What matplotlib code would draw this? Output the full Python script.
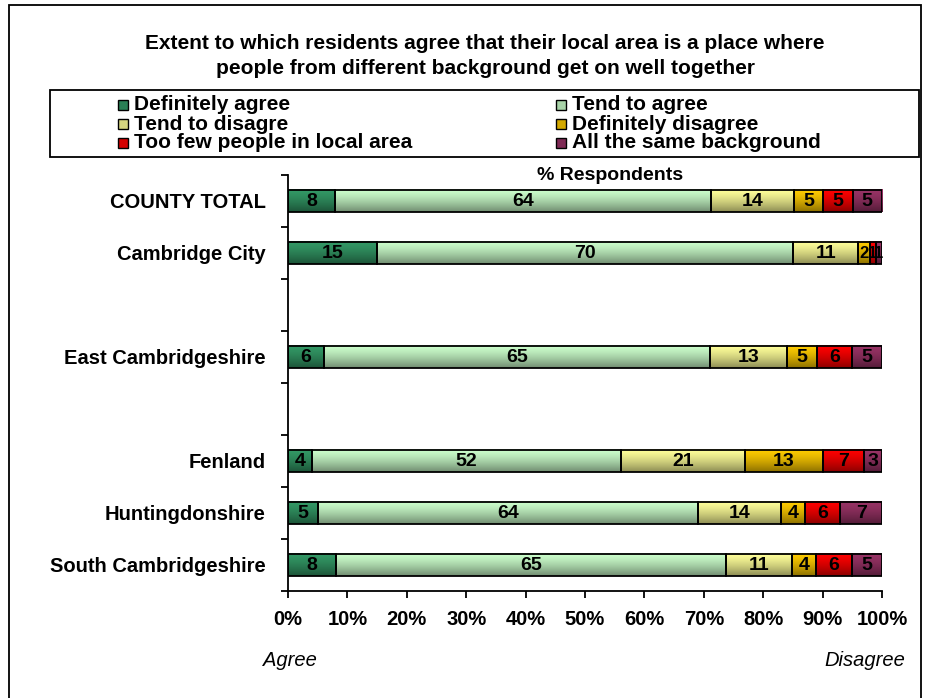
import numpy as np
import matplotlib
matplotlib.use("Agg")
import matplotlib.pyplot as plt
from matplotlib.patches import Rectangle
from matplotlib.colors import to_rgb

plt.rcParams['font.family'] = ['Liberation Sans', 'DejaVu Sans']

# ---- data ----
areas = ["COUNTY TOTAL", "Cambridge City", "East Cambridgeshire",
         "Fenland", "Huntingdonshire", "South Cambridgeshire"]
series_names = ["Definitely agree", "Tend to agree", "Tend to disagre",
                "Definitely disagree", "Too few people in local area",
                "All the same background"]
definitely_agree = [8, 15, 6, 4, 5, 8]
tend_to_agree = [64, 70, 65, 52, 64, 65]
tend_to_disagree = [14, 11, 13, 21, 14, 11]
definitely_disagree = [5, 2, 5, 13, 4, 4]
too_few_people = [5, 1, 6, 7, 6, 6]
same_background = [5, 1, 5, 3, 7, 5]
x_ticks = [0, 10, 20, 30, 40, 50, 60, 70, 80, 90, 100]
x_tick_labels = ["0%", "10%", "20%", "30%", "40%", "50%",
                 "60%", "70%", "80%", "90%", "100%"]

# ---- style / layout ----
series_colors = ["#339966", "#CCFFCC", "#FFFF99", "#FFCC00", "#FF0000", "#993366"]
slots = [0, 1, 3, 5, 6, 7]          # row slots (gaps left empty)
W, H = 928, 698

fig = plt.figure(figsize=(W / 100, H / 100), dpi=100)


def fx(px):
    return px / W


def fy(py):
    return 1 - py / H


def gradient(color, n=64):
    top = np.array(to_rgb(color))
    t = np.linspace(0, 1, n) ** 1.4
    col = top[None, :] * (1 - 0.45 * t[:, None])
    return col[:, None, :]


ax = fig.add_axes([fx(288), fy(591), fx(882) - fx(288), fy(175) - fy(591)])

values = np.array([definitely_agree, tend_to_agree, tend_to_disagree,
                   definitely_disagree, too_few_people, same_background], dtype=float)
shares = values / values.sum(axis=0) * 100

left = np.zeros(len(areas))
for i, name in enumerate(series_names):
    bars = ax.barh(slots, shares[i], left=left, height=0.44, facecolor='none',
                   edgecolor='black', linewidth=1.3, zorder=3)
    for bar, v in zip(bars, values[i]):
        x0, y0 = bar.get_x(), bar.get_y()
        w, h = bar.get_width(), bar.get_height()
        ax.imshow(gradient(series_colors[i]), extent=(x0, x0 + w, y0 + h, y0),
                  aspect='auto', origin='upper', interpolation='bilinear', zorder=2)
        ax.text(x0 + w / 2, y0 + h / 2, f"{int(v)}", ha='center', va='center',
                fontsize=14 if w > 2.5 else 12, fontweight='bold', zorder=4)
    left += shares[i]

ax.set_xlim(0, 100)
ax.set_ylim(7.5, -0.5)

ax.set_xticks(x_ticks, x_tick_labels)
ax.tick_params(axis='x', direction='out', length=5, width=1.3, pad=9,
               labelsize=14.5)
for lbl in ax.get_xticklabels():
    lbl.set_fontweight('bold')

ax.set_yticks(slots, areas)
ax.set_yticks(np.arange(-0.5, 8.0, 1.0), minor=True)
ax.tick_params(axis='y', which='major', length=0, pad=16, labelsize=14.5)
ax.tick_params(axis='y', which='minor', direction='out', length=5, width=1.3)
for lbl in ax.get_yticklabels():
    lbl.set_fontweight('bold')

for side in ('top', 'right'):
    ax.spines[side].set_visible(False)
for side in ('left', 'bottom'):
    ax.spines[side].set_linewidth(1.3)
    ax.spines[side].set_color('black')

fig.text(fx(610), fy(176), "% Respondents", ha='center', va='center',
         fontsize=14, fontweight='bold')

# ---- title ----
fig.text(fx(485), fy(56),
         "Extent to which residents agree that their local area is a place where\n"
         "people from different background get on well together",
         ha='center', va='center', fontsize=15, fontweight='bold', linespacing=1.45)

# ---- legend ----
fig.add_artist(Rectangle((fx(50), fy(157)), fx(919) - fx(50), fy(90) - fy(157),
                         transform=fig.transFigure, fill=False,
                         edgecolor='black', linewidth=1.3))
col_x = [118, 556]
row_y = [105, 124, 143]
order = [(0, 0, 0), (1, 1, 0), (2, 0, 1), (3, 1, 1), (4, 0, 2), (5, 1, 2)]
for idx, c, r in order:
    mx, my = col_x[c], row_y[r]
    fig.add_artist(Rectangle((fx(mx), fy(my + 5)), fx(10), 10 / H,
                             transform=fig.transFigure,
                             facecolor=tuple(gradient(series_colors[idx], 3)[1, 0]),
                             edgecolor='black', linewidth=1.0))
    fig.text(fx(mx + 16), fy(my), series_names[idx], ha='left', va='center',
             fontsize=15, fontweight='bold')

# ---- end annotations ----
fig.text(fx(290), fy(660), "Agree", ha='center', va='center', fontsize=14.5,
         style='italic')
fig.text(fx(865), fy(660), "Disagree", ha='center', va='center', fontsize=14.5,
         style='italic')

# ---- outer frame ----
fig.add_artist(Rectangle((fx(9), fy(702)), fx(921) - fx(9), fy(5) - fy(702),
                         transform=fig.transFigure, fill=False,
                         edgecolor='black', linewidth=1.3))

fig.savefig("out.png", dpi=100)
